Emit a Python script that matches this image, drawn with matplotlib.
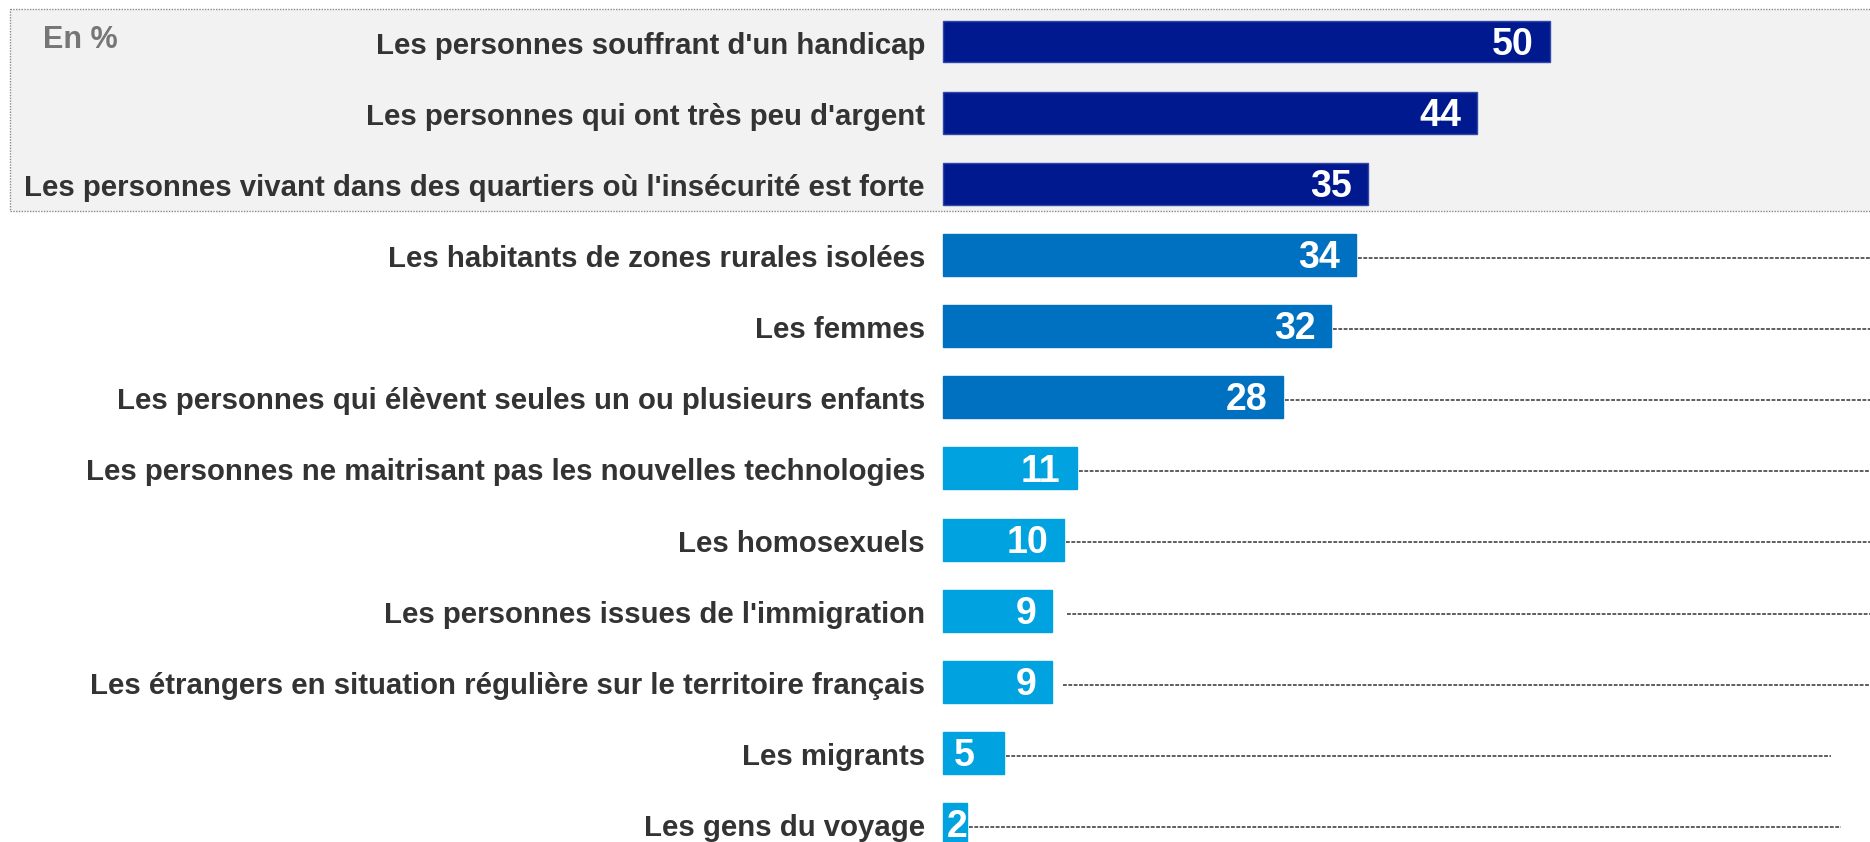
import matplotlib.pyplot as plt
from matplotlib.patches import Rectangle

plt.rcParams['font.family'] = ['Liberation Sans', 'DejaVu Sans']

# data, top to bottom
labels = [
    "Les personnes souffrant d'un handicap",
    "Les personnes qui ont très peu d'argent",
    "Les personnes vivant dans des quartiers où l'insécurité est forte",
    "Les habitants de zones rurales isolées",
    "Les femmes",
    "Les personnes qui élèvent seules un ou plusieurs enfants",
    "Les personnes ne maitrisant pas les nouvelles technologies",
    "Les homosexuels",
    "Les personnes issues de l'immigration",
    "Les étrangers en situation régulière sur le territoire français",
    "Les migrants",
    "Les gens du voyage",
]
values = [50, 44, 35, 34, 32, 28, 11, 10, 9, 9, 5, 2]
groups = [0, 0, 0, 1, 1, 1, 2, 2, 2, 2, 2, 2]

colors = ['#00198F', '#0071C1', '#00A2E0']
edges = ['#3347A8', '#0071C1', '#00A2E0']

W, H = 1870, 842
px = 12.14          # pixels per percentage point
x0 = 943            # pixel where bars start
y0, dy = 41.5, 71.15

fig = plt.figure(figsize=(W / 100, H / 100), dpi=100)
ax = fig.add_axes([0, 0, 1, 1])
ax.set_xlim(-x0 / px, (W - x0) / px)
ax.set_ylim((H - y0) / dy, -y0 / dy)
ax.axis('off')

# grey box behind the top three rows
ax.add_patch(Rectangle(((10 - x0) / px, (9.5 - y0) / dy), (W + 20) / px, (211 - 9.5) / dy,
                       facecolor='#F2F2F2', edgecolor='#8C8C8C', linestyle=(0, (1, 1)),
                       linewidth=1, zorder=0))

ys = list(range(len(values)))
ax.barh(ys, values, height=0.59, left=0,
        color=[colors[g] for g in groups],
        edgecolor=[edges[g] for g in groups], linewidth=1, zorder=2)

# dotted leader lines (start gap, end pixel)
line_gap = {8: 15, 9: 11}
line_end = {10: 1831, 11: 1841}
for i, v in enumerate(values):
    if groups[i] == 0:
        continue
    xs = v + line_gap.get(i, 2) / px
    xe = (line_end.get(i, W + 5) - x0) / px
    ax.plot([xs, xe], [i + 0.04, i + 0.04], color='#333333', linewidth=1.1,
            linestyle=(0, (2.5, 1)), zorder=1)

for i, (lab, v) in enumerate(zip(labels, values)):
    ax.text(-18 / px, i + 0.17, lab, ha='right', va='baseline', fontsize=21.2,
            fontweight='bold', color='#333333', zorder=3)
    if v >= 8:
        ax.text(v - 16 / px, i + 0.185, str(v), ha='right', va='baseline', fontsize=27,
                fontweight='bold', color='white', zorder=3)
    else:
        # small bars: number sits near the start of the bar
        xl = max(min(v - 1.7, 0.9), 0.2)
        ax.text(xl, i + 0.185, str(v), ha='left', va='baseline', fontsize=27,
                fontweight='bold', color='white', zorder=3)

ax.text((43 - x0) / px, -0.02, 'En %', ha='left', va='center', fontsize=22,
        fontweight='bold', color='#767676', zorder=3)

fig.savefig('out.png', dpi=100)
